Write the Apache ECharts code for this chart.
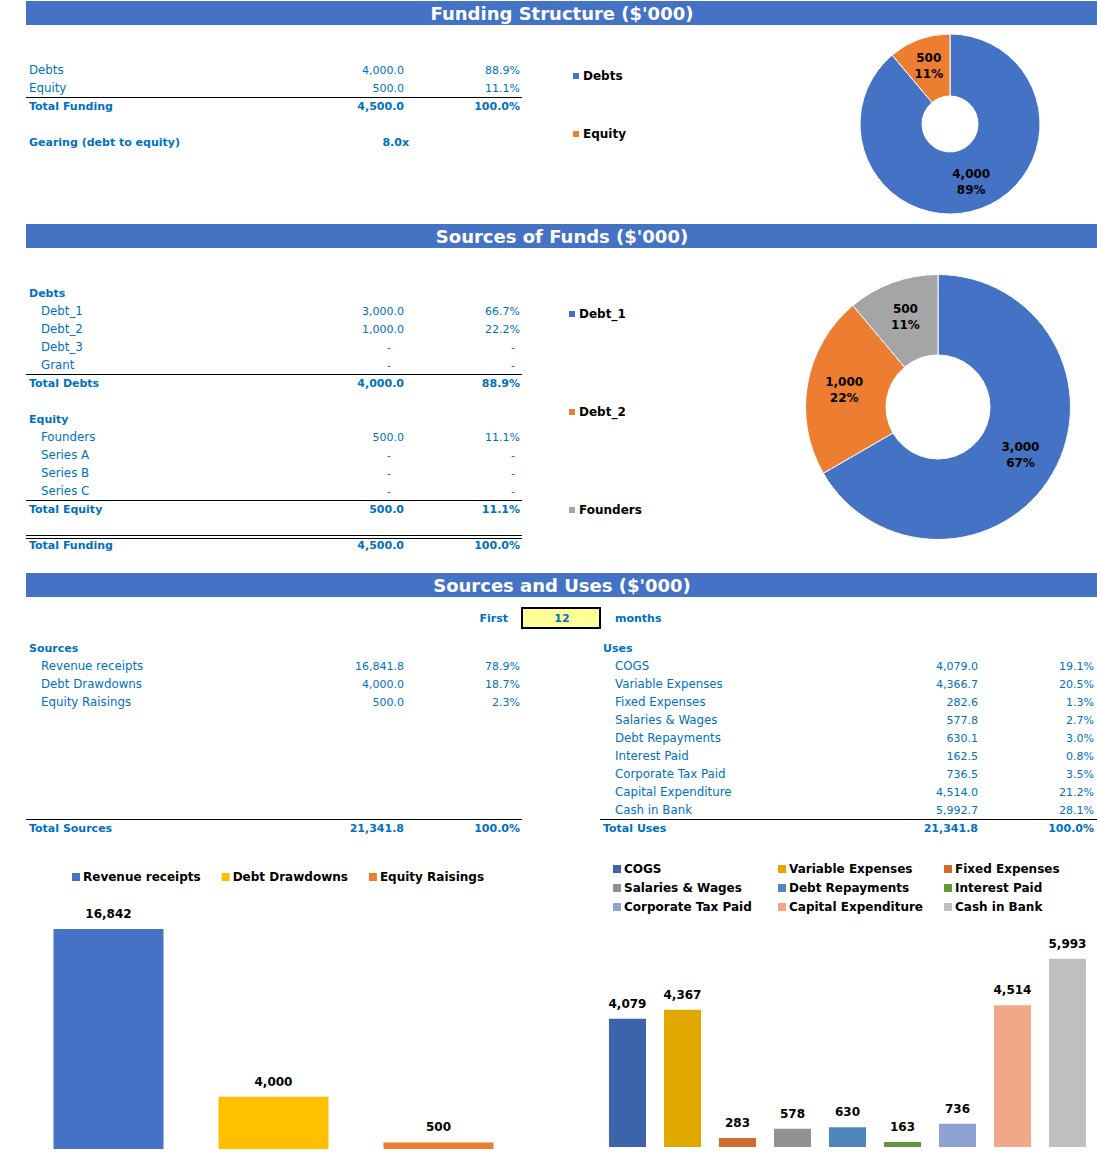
<!DOCTYPE html>
<html>
<head>
<meta charset="utf-8">
<script src="https://cdn.jsdelivr.net/npm/echarts@6/dist/echarts.min.js"></script>
<style>
html,body{margin:0;padding:0;background:#fff;}
#chart{width:1097px;height:1152px;}
</style>
</head>
<body>
<div id="chart"></div>
<script>
// ---------- DATA ----------
const titles = ["Funding Structure ($'000)", "Sources of Funds ($'000)", "Sources and Uses ($'000)"];

const fundingCats = ['Debts', 'Equity'];
const fundingVals = [4000.0, 500.0];
const fundingPcts = [88.9, 11.1];
const fundingTotal = 4500.0;
const gearing = 8.0;

const debtCats = ['Debt_1', 'Debt_2', 'Debt_3', 'Grant'];
const debtVals = [3000.0, 1000.0, 0, 0];
const debtPcts = [66.7, 22.2, 0, 0];
const debtTotal = 4000.0;
const debtTotalPct = 88.9;

const equityCats = ['Founders', 'Series A', 'Series B', 'Series C'];
const equityVals = [500.0, 0, 0, 0];
const equityPcts = [11.1, 0, 0, 0];
const equityTotal = 500.0;
const equityTotalPct = 11.1;

const firstMonths = 12;

const sourceCats = ['Revenue receipts', 'Debt Drawdowns', 'Equity Raisings'];
const sourceVals = [16841.8, 4000.0, 500.0];
const sourcePcts = [78.9, 18.7, 2.3];
const sourceTotal = 21341.8;

const useCats = ['COGS', 'Variable Expenses', 'Fixed Expenses', 'Salaries & Wages', 'Debt Repayments',
  'Interest Paid', 'Corporate Tax Paid', 'Capital Expenditure', 'Cash in Bank'];
const useVals = [4079.0, 4366.7, 282.6, 577.8, 630.1, 162.5, 736.46, 4514.0, 5992.7];
const usePcts = [19.1, 20.5, 1.3, 2.7, 3.0, 0.8, 3.5, 21.2, 28.1];
const useTotal = 21341.8;

// ---------- STYLE ----------
const FONT = "'DejaVu Sans', Verdana, sans-serif";
const BLUE_TXT = '#0070C0';
const HEAD = '#4472C4';
const pieColors1 = ['#4472C4', '#ED7D31'];
const pieColors2 = ['#4472C4', '#ED7D31', '#A5A5A5'];
const srcColors = ['#4472C4', '#FFC000', '#ED7D31'];
const useColors = ['#3C64AA', '#E1A800', '#D26B2B', '#919191', '#4E87BD', '#62973C', '#8FA3D3', '#F0A889', '#BFBFBF'];

function fmt1(v) { return v === 0 ? '-' : v.toLocaleString('en-US', { minimumFractionDigits: 1, maximumFractionDigits: 1 }); }
function fmtP(v) { return v === 0 ? '-' : v.toFixed(1) + '%'; }
function fmt0(v) { return Math.round(v).toLocaleString('en-US'); }

const g = [];
function txt(x, y, s, opt) {
  opt = opt || {};
  g.push({
    type: 'text', x: x, y: y, silent: true,
    style: {
      text: s, fill: opt.color || BLUE_TXT, align: opt.align || 'left', verticalAlign: 'middle',
      font: (opt.bold ? 'bold ' : '') + (opt.size || (opt.bold ? 11 : 11)) + 'px ' + FONT
    }
  });
}
function lbl(x, y, s, bold) { txt(x, y, s, { bold: bold, size: bold ? 11 : 11.8 }); }
function hline(x1, x2, y, w) {
  g.push({ type: 'line', silent: true, shape: { x1: x1, y1: y, x2: x2, y2: y }, style: { stroke: '#000', lineWidth: w || 1 } });
}
function header(y, t) {
  g.push({ type: 'rect', silent: true, shape: { x: 26, y: y, width: 1071, height: 24 }, style: { fill: HEAD } });
  txt(562, y + 12, t, { color: '#fff', bold: true, size: 18, align: 'center' });
}
const VX = 404, PX = 520;
function row(y, label, v, p, opt) {
  opt = opt || {};
  const lx = opt.indent ? 41 : 29;
  lbl(lx, y, label, opt.bold);
  if (v === 0) {
    txt(VX - 13, y, '-', { align: 'right' });
    txt(PX - 5, y, '-', { align: 'right' });
  } else {
    txt(VX, y, fmt1(v), { align: 'right', bold: opt.bold });
    txt(PX, y, fmtP(p), { align: 'right', bold: opt.bold });
  }
}

// Section 1
header(1, titles[0]);
fundingCats.forEach((c, i) => row(70 + i * 18, c, fundingVals[i], fundingPcts[i]));
hline(26, 522, 97.5);
row(106, 'Total Funding', fundingTotal, 100.0, { bold: true });
lbl(29, 142, 'Gearing (debt to equity)', true);
txt(409, 142, gearing.toFixed(1) + 'x', { bold: true, align: 'right' });

// Section 2
header(224, titles[1]);
lbl(29, 293, 'Debts', true);
debtCats.forEach((c, i) => row(311 + i * 18, c, debtVals[i], debtPcts[i], { indent: true }));
hline(26, 522, 374.5);
row(383, 'Total Debts', debtTotal, debtTotalPct, { bold: true });
lbl(29, 419, 'Equity', true);
equityCats.forEach((c, i) => row(437 + i * 18, c, equityVals[i], equityPcts[i], { indent: true }));
hline(26, 522, 500.5);
row(509, 'Total Equity', equityTotal, equityTotalPct, { bold: true });
hline(26, 522, 535.5);
hline(26, 522, 538.5);
row(545, 'Total Funding', fundingTotal, 100.0, { bold: true });

// Section 3
header(573, titles[2]);
txt(508, 618, 'First', { bold: true, align: 'right' });
g.push({ type: 'rect', silent: true, shape: { x: 522, y: 608, width: 78, height: 20 }, style: { fill: '#FFFF99', stroke: '#000', lineWidth: 2 } });
txt(562, 618, String(firstMonths), { bold: true, align: 'center' });
txt(615, 618, 'months', { bold: true });

lbl(29, 648, 'Sources', true);
sourceCats.forEach((c, i) => row(666 + i * 18, c, sourceVals[i], sourcePcts[i], { indent: true }));
hline(26, 522, 819.5);
row(828, 'Total Sources', sourceTotal, 100.0, { bold: true });

lbl(603, 648, 'Uses', true);
useCats.forEach((c, i) => {
  const y = 666 + i * 18;
  lbl(615, y, c, false);
  txt(978, y, fmt1(useVals[i]), { align: 'right' });
  txt(1094, y, fmtP(usePcts[i]), { align: 'right' });
});
hline(600, 1097, 819.5);
lbl(603, 828, 'Total Uses', true);
txt(978, 828, fmt1(useTotal), { align: 'right', bold: true });
txt(1094, 828, fmtP(100.0), { align: 'right', bold: true });

// ---------- CHART ----------
const labelFont = { fontFamily: FONT, fontWeight: 'bold', fontSize: 12, color: '#000' };
const legendText = { fontFamily: FONT, fontWeight: 'bold', fontSize: 12, color: '#000' };

function pieLabel(p) { return fmt0(p.value) + '\n' + Math.round(p.percent) + '%'; }

const pie2Names = [debtCats[0], debtCats[1], equityCats[0]];
const pie2Vals = [debtVals[0], debtVals[1], equityVals[0]];

const series = [
  {
    type: 'pie', center: [950, 124], radius: [28, 90], startAngle: 90, clockwise: true,
    data: fundingCats.map((c, i) => ({ name: c, value: fundingVals[i], itemStyle: { color: pieColors1[i] } })),
    itemStyle: { borderColor: '#fff', borderWidth: 1 },
    label: Object.assign({ show: true, position: 'inside', formatter: pieLabel, lineHeight: 16 }, labelFont),
    labelLine: { show: false }, emphasis: { disabled: true }, silent: true
  },
  {
    type: 'pie', center: [938, 407], radius: [52, 132.5], startAngle: 90, clockwise: true,
    data: pie2Names.map((c, i) => ({ name: c, value: pie2Vals[i], itemStyle: { color: pieColors2[i] } })),
    itemStyle: { borderColor: '#fff', borderWidth: 1 },
    label: Object.assign({ show: true, position: 'inside', formatter: pieLabel, lineHeight: 16 }, labelFont),
    labelLine: { show: false }, emphasis: { disabled: true }, silent: true
  }
];
sourceCats.forEach((c, i) => {
  series.push({
    type: 'bar', name: c, xAxisIndex: 0, yAxisIndex: 0, barWidth: 110, barGap: '-100%',
    itemStyle: { color: srcColors[i] },
    data: sourceCats.map((_, j) => j === i ? sourceVals[i] : null),
    label: Object.assign({ show: true, position: 'top', distance: 9, formatter: p => fmt0(p.value) }, labelFont),
    silent: true
  });
});
useCats.forEach((c, i) => {
  series.push({
    type: 'bar', name: c, xAxisIndex: 1, yAxisIndex: 1, barWidth: 37, barGap: '-100%',
    itemStyle: { color: useColors[i] },
    data: useCats.map((_, j) => j === i ? useVals[i] : null),
    label: Object.assign({ show: true, position: 'top', distance: 9, formatter: p => fmt0(p.value) }, labelFont),
    silent: true
  });
});

function legend(left, top, names, orient, gap, lh) {
  return {
    left: left, top: top, orient: orient, itemGap: gap, padding: 0,
    icon: 'rect', itemWidth: 8, itemHeight: 8, selectedMode: false,
    data: names, textStyle: Object.assign({ lineHeight: lh, padding: [0, 0, 0, -2] }, legendText)
  };
}

const option = {
  animation: false,
  backgroundColor: '#fff',
  graphic: { elements: g },
  grid: [
    { left: 26, width: 495, top: 914, height: 235 },
    { left: 600, width: 495, top: 927, height: 220 }
  ],
  xAxis: [
    { type: 'category', gridIndex: 0, data: sourceCats, show: false },
    { type: 'category', gridIndex: 1, data: useCats, show: false }
  ],
  yAxis: [
    { type: 'value', gridIndex: 0, min: 0, max: 18000, show: false },
    { type: 'value', gridIndex: 1, min: 0, max: 7000, show: false }
  ],
  legend: [
    legend(571, 68, fundingCats, 'vertical', 42, 16),
    legend(567, 306, pie2Names, 'vertical', 82, 16),
    legend(72, 869, sourceCats, 'horizontal', 21, 16),
    legend(613, 859.5, [useCats[0], useCats[3], useCats[6]], 'vertical', 0, 19),
    legend(778, 859.5, [useCats[1], useCats[4], useCats[7]], 'vertical', 0, 19),
    legend(944, 859.5, [useCats[2], useCats[5], useCats[8]], 'vertical', 0, 19)
  ],
  series: series
};

const chart = echarts.init(document.getElementById('chart'), null, { renderer: 'svg', width: 1097, height: 1152 });
chart.setOption(option);
</script>
</body>
</html>
